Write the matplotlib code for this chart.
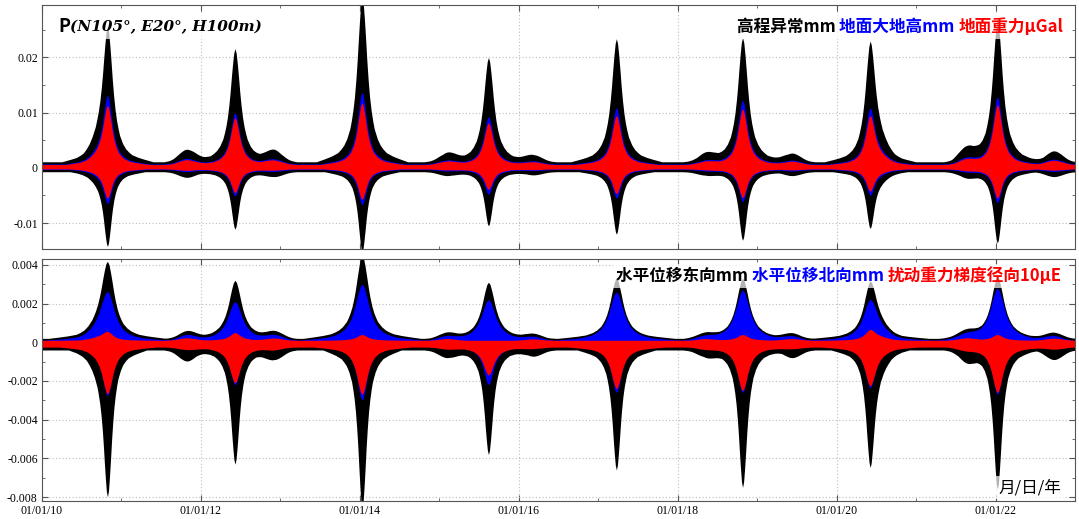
import numpy as np
import pandas as pd
import matplotlib
matplotlib.use('Agg')
import matplotlib.pyplot as plt
import matplotlib.dates as mdates
from matplotlib.ticker import MultipleLocator, FuncFormatter
from matplotlib.transforms import Bbox
from matplotlib.patches import Rectangle

plt.rcParams['axes.unicode_minus'] = False

# 尖峰日期 (金星下合) 与小鼓包日期 (木星冲), 读图
spike_dates = ['2010-10-29', '2012-06-06', '2014-01-11', '2015-08-15',
               '2017-03-25', '2018-10-26', '2020-06-03', '2022-01-09']
bump_dates = ['2010-09-21', '2011-10-29', '2012-12-03', '2015-02-06', '2016-03-08',
              '2018-05-09', '2019-06-10', '2020-07-14', '2021-08-20', '2022-09-26']
# 上图黑色上包络在鼓包处的高度
bump_peaks = [0.0030, 0.0034, 0.0031, 0.0027, 0.0024, 0.0025, 0.0027, 0.0030, 0.0032, 0.0031]

# 上图: 高程异常 / 地面大地高 / 地面重力  (上包络峰, 下包络峰)
top_black_up = [0.0245, 0.0216, 0.0310, 0.0200, 0.0234, 0.0236, 0.0219, 0.0268]
top_black_lo = [-0.0137, -0.0111, -0.0152, -0.0105, -0.0120, -0.0131, -0.0105, -0.0136]
top_blue_up = [0.0127, 0.0100, 0.0137, 0.0093, 0.0109, 0.0123, 0.0104, 0.0129]
top_blue_lo = [-0.0063, -0.0051, -0.0067, -0.0048, -0.0055, -0.0061, -0.0048, -0.0063]
top_red_up = [0.0109, 0.0091, 0.0118, 0.0082, 0.0095, 0.0107, 0.0091, 0.0115]
top_red_lo = [-0.0054, -0.0045, -0.0057, -0.0039, -0.0047, -0.0054, -0.0041, -0.0055]

# 下图: 水平位移东向 / 北向 / 扰动重力梯度径向
bot_black_up = [0.0040, 0.0032, 0.0045, 0.0031, 0.0033, 0.0033, 0.0030, 0.0034]
bot_black_lo = [-0.0077, -0.0063, -0.0086, -0.0058, -0.0066, -0.0075, -0.0062, -0.0076]
bot_blue_up = [0.0025, 0.0021, 0.0030, 0.0022, 0.0026, 0.0027, 0.0021, 0.0028]
bot_blue_lo = [-0.0027, -0.0022, -0.0030, -0.0022, -0.0026, -0.0026, -0.0023, -0.0027]
bot_red_up = [0.0005, 0.0005, 0.0004, 0.0001, 0.0001, 0.0004, 0.0006, 0.0004]
bot_red_lo = [-0.0026, -0.0021, -0.0027, -0.0017, -0.0024, -0.0025, -0.0022, -0.0026]

# 峰形 (读图, 以半宽为单位) 与鼓包形状
prof_u = [0, 0.2, 0.4, 0.6, 0.8, 1.0, 1.25, 1.5, 1.75, 2, 2.5, 3, 3.5, 4, 5, 6, 7.5]
prof_v = [1, 0.96, 0.86, 0.74, 0.61, 0.5, 0.39, 0.31, 0.25, 0.2, 0.14, 0.1, 0.075, 0.055, 0.035, 0.02, 0]
bump_u = [0, 0.25, 0.5, 0.75, 1, 1.25, 1.5, 1.75, 2, 2.5]
bump_v = [1, 0.96, 0.85, 0.71, 0.55, 0.39, 0.25, 0.15, 0.08, 0]

days = pd.date_range('2010-01-01', '2023-01-01', freq='D')
t = mdates.date2num(days.to_pydatetime())
spike_t = mdates.date2num(pd.to_datetime(spike_dates).to_pydatetime())
bump_t = mdates.date2num(pd.to_datetime(bump_dates).to_pydatetime())
bump_rel = np.array(bump_peaks) - 0.0011
bump_rel = bump_rel / bump_rel.mean()


def envelope(base, peaks, width, bump_amp):
    y = np.full(t.shape, base, dtype=float)
    for d, p in zip(spike_t, peaks):
        y += (p - base) * np.interp(np.abs(t - d) / width, prof_u, prof_v)
    for d, r in zip(bump_t, bump_rel):
        y += bump_amp * r * np.interp(np.abs(t - d) / 42.0, bump_u, bump_v)
    return y


fig = plt.figure(figsize=(10.79, 5.19), dpi=100)
ax1 = fig.add_axes([0.0389, 0.5202, 0.9574, 0.4702])
ax2 = fig.add_axes([0.0389, 0.0347, 0.9574, 0.4663])

top = [
    ('black', envelope(0.0011, top_black_up, 28, 0.0018), envelope(-0.0007, top_black_lo, 23, -0.0008)),
    ('#0000ff', envelope(0.0007, top_blue_up, 26, 0.0008), envelope(-0.0003, top_blue_lo, 24, -0.0003)),
    ('#ff0000', envelope(0.0006, top_red_up, 26, 0.0007), envelope(-0.0002, top_red_lo, 24, -0.0002)),
]
bot = [
    ('black', envelope(0.0002, bot_black_up, 36, 0.00028), envelope(-0.0004, bot_black_lo, 24, -0.00045)),
    ('#0000ff', envelope(0.0001, bot_blue_up, 40, 0.0002), envelope(-0.0002, bot_blue_lo, 28, -0.0001)),
    ('#ff0000', envelope(0.0001, bot_red_up, 30, 0.0001), envelope(-0.00025, bot_red_lo, 30, -0.0001)),
]
for ax, series in [(ax1, top), (ax2, bot)]:
    for c, up, lo in series:
        ax.fill_between(t, lo, up, color=c, lw=0)

fmt = FuncFormatter(lambda v, p: '0' if abs(v) < 1e-12 else '{:g}'.format(v))
for ax in (ax1, ax2):
    ax.set_xlim(mdates.date2num(pd.Timestamp('2010-01-01')), mdates.date2num(pd.Timestamp('2023-01-01')))
    ax.xaxis.set_major_locator(mdates.YearLocator(2))
    ax.xaxis.set_minor_locator(mdates.YearLocator(1))
    ax.xaxis.set_major_formatter(mdates.DateFormatter('%m/%d/%y'))
    ax.yaxis.set_major_formatter(fmt)
    ax.set_axisbelow(True)
    ax.grid(True, which='major', color='#bdbdbd', linestyle=(0, (1, 2)), lw=0.8)
    ax.tick_params(which='both', direction='in', top=True, right=True, color='#555555')
    ax.tick_params(which='major', length=4, pad=3)
    ax.tick_params(which='minor', length=2.5)
    for s in ax.spines.values():
        s.set_color('#555555')
    for lab in ax.get_yticklabels() + ax.get_xticklabels():
        lab.set_family('Liberation Serif')
        lab.set_fontsize(8.5)

ax1.set_ylim(-0.0147, 0.0295)
ax1.yaxis.set_major_locator(MultipleLocator(0.01))
ax1.yaxis.set_minor_locator(MultipleLocator(0.005))
ax1.tick_params(axis='x', labelbottom=False)

ax2.set_ylim(-0.0082, 0.0043)
ax2.yaxis.set_major_locator(MultipleLocator(0.002))
ax2.yaxis.set_minor_locator(MultipleLocator(0.001))

cjk = ['Noto Sans CJK SC', 'DejaVu Sans']
fs = 12


def color_line(ax, x, y, parts):
    # 从右往左依次排列各段文字
    pieces = []
    anchor = None
    for s, c in reversed(parts):
        if anchor is None:
            anchor = ax.text(x, y, s, transform=ax.transAxes, ha='right', va='center',
                             family=cjk, weight='bold', fontsize=fs, color=c, zorder=5)
        else:
            anchor = ax.annotate(s, xy=(0, 0), xycoords=anchor, ha='right', va='bottom',
                                 family=cjk, weight='bold', fontsize=fs, color=c, zorder=5)
        pieces.append(anchor)
    return pieces


def backdrop(ax, pieces, pad=3):
    # 文字后面的半透明白底
    fig.canvas.draw()
    r = fig.canvas.get_renderer()
    bb = Bbox.union([a.get_window_extent(r) for a in pieces]).padded(pad)
    bb = bb.transformed(ax.transAxes.inverted())
    ax.add_patch(Rectangle((bb.x0, bb.y0), bb.width, bb.height, transform=ax.transAxes,
                           fc='white', ec='none', alpha=0.7, zorder=4, clip_on=False))


leg1 = color_line(ax1, 0.9884, 0.91, [('高程异常mm ', 'black'), ('地面大地高mm ', '#0000ff'),
                                      ('地面重力μGal', '#ff0000')])
leg2 = color_line(ax2, 0.9874, 0.93, [('水平位移东向mm ', 'black'), ('水平位移北向mm ', '#0000ff'),
                                      ('扰动重力梯度径向10μE', '#ff0000')])

p = ax1.text(0.0155, 0.91, 'P', transform=ax1.transAxes, ha='left', va='center',
             family=cjk, weight='bold', fontsize=13, zorder=5)
q = ax1.annotate('(N105°, E20°, H100m)', xy=(1, 0.5), xycoords=p, ha='left', va='center',
                 family='DejaVu Serif', style='italic', weight='bold', fontsize=11, zorder=5)

d = ax2.text(0.9864, 0.054, '月/日/年', transform=ax2.transAxes, ha='right', va='center',
             family=cjk, fontsize=fs, zorder=5)

backdrop(ax1, leg1)
backdrop(ax2, leg2)
backdrop(ax1, [p, q])
backdrop(ax2, [d])

fig.savefig('out.png', dpi=100)
